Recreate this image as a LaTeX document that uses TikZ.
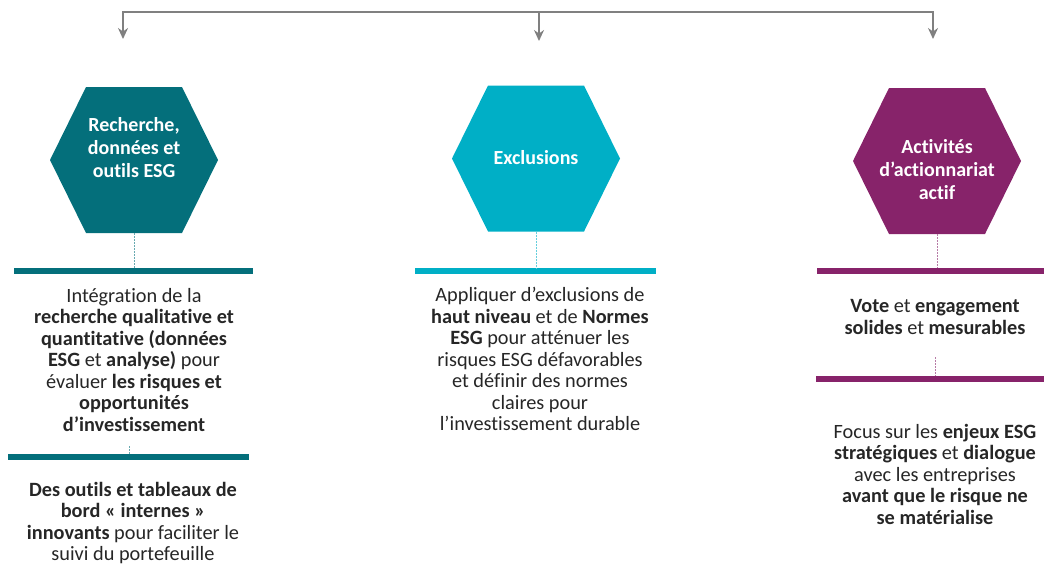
\documentclass[tikz,border=0pt]{standalone}
\usepackage{fontspec}
\setmainfont{Carlito}[Ligatures=NoCommon]
\usetikzlibrary{arrows.meta,calc}
\definecolor{esgteal}{HTML}{046F7B}
\definecolor{esgcyan}{HTML}{00AFC6}
\definecolor{esgplum}{HTML}{87236A}
\definecolor{txtgray}{HTML}{262626}
\definecolor{arrgray}{HTML}{808080}
\def\hexa[#1](#2){\fill[#1] ($(#2)+(-84,0)$) -- ($(#2)+(-48,-73)$) -- ($(#2)+(48,-73)$) -- ($(#2)+(84,0)$) -- ($(#2)+(48,73)$) -- ($(#2)+(-48,73)$) -- cycle;}
\tikzset{
  hextext/.style={text=white, align=center, font=\fontsize{20}{23}\selectfont\bfseries},
  body/.style={text=txtgray, align=center, font=\fontsize{20.3}{21.5}\selectfont},
  bar/.style={fill=#1, inner sep=0, minimum height=6},
  tick/.style={draw=#1!60, line width=1, dash pattern=on 2 off 1},
  arr/.style={draw=arrgray, line width=2.5}
}

\begin{document}
\begin{tikzpicture}[x=1pt,y=-1pt]
			%%%%% START %%%%%
			\useasboundingbox (0,0) rectangle (1044,566);
			
			% top bracket
			\coordinate (t1) at (123,12);
			\coordinate (t2) at (539,12);
			\coordinate (t3) at (933,12);
			\coordinate (a1) at (123,39);
			\coordinate (a2) at (539,41);
			\coordinate (a3) at (933,39);
			\draw[arr] ($(t1)+(0,1.25)$) |- (t3) -- ($(t3)+(0,1.25)$);
			\draw[arr,-{Stealth[length=11,width=10]}] (t1) -- (a1);
			\draw[arr,-{Stealth[length=11,width=10]}] (t2) -- (a2);
			\draw[arr,-{Stealth[length=11,width=10]}] (t3) -- (a3);
			
			% hexagons
			\coordinate (h1c) at (134,160);
			\coordinate (h2c) at (536,158.5);
			\coordinate (h3c) at (937,161);
			\hexa[esgteal](h1c);
			\hexa[esgcyan](h2c);
			\hexa[esgplum](h3c);
			\coordinate (h1b) at (134,233);
			\coordinate (h2b) at (536,231.5);
			\coordinate (h3b) at (937,234);
			\node[hextext] (h1) at (134,148) {Recherche,\\données et\\outils ESG};
			\node[hextext] (h2) at (536,158) {Exclusions};
			\node[hextext] (h3) at (937,170) {Activités\\d’actionnariat\\actif};
			
			% bars
			\node[bar=esgteal, minimum width=239] (b1) at (133.5,271) {};
			\node[bar=esgteal, minimum width=241] (b1b) at (128.5,457) {};
			\node[bar=esgcyan, minimum width=241] (b2) at (535.5,271) {};
			\node[bar=esgplum, minimum width=227] (b3) at (930.5,271) {};
			\node[bar=esgplum, minimum width=228] (b3b) at (930,379) {};
			
			% texts
			\node[body] (p1) at (134,360) {Intégration de la\\\textbf{recherche qualitative et}\\\textbf{quantitative (données}\\\textbf{ESG} et \textbf{analyse)} pour\\évaluer \textbf{les risques et}\\\textbf{opportunités}\\\textbf{d’investissement}};
			\node[body] (p1b) at (133,523) {\textbf{Des outils et tableaux de}\\\textbf{bord « internes »}\\\textbf{innovants} pour faciliter le\\suivi du portefeuille};
			\node[body] (p2) at (540,359) {Appliquer d’exclusions de\\\textbf{haut niveau} et de \textbf{Normes}\\\textbf{ESG} pour atténuer les\\risques ESG défavorables\\et définir des normes\\claires pour\\l’investissement durable};
			\node[body] (p3) at (935,317) {\textbf{Vote} et \textbf{engagement}\\\textbf{solides} et \textbf{mesurables}};
			\node[body] (p3b) at (935,474) {Focus sur les \textbf{enjeux ESG}\\\textbf{stratégiques} et \textbf{dialogue}\\avec les entreprises\\\textbf{avant que le risque ne}\\\textbf{se matérialise}};
			
			% dashed links
			\coordinate (k1) at (129,446);
			\coordinate (k3) at (935,357);
			\draw[tick=esgteal] (h1b) -- (h1b |- b1.north);
			\draw[tick=esgteal] (k1) -- (k1 |- b1b.north);
			\draw[tick=esgcyan] (h2b) -- (h2b |- b2.north);
			\draw[tick=esgplum] (h3b) -- (h3b |- b3.north);
			\draw[tick=esgplum] (k3) -- (k3 |- b3b.north);
			%%%%% END %%%%%
\end{tikzpicture}
\end{document}
